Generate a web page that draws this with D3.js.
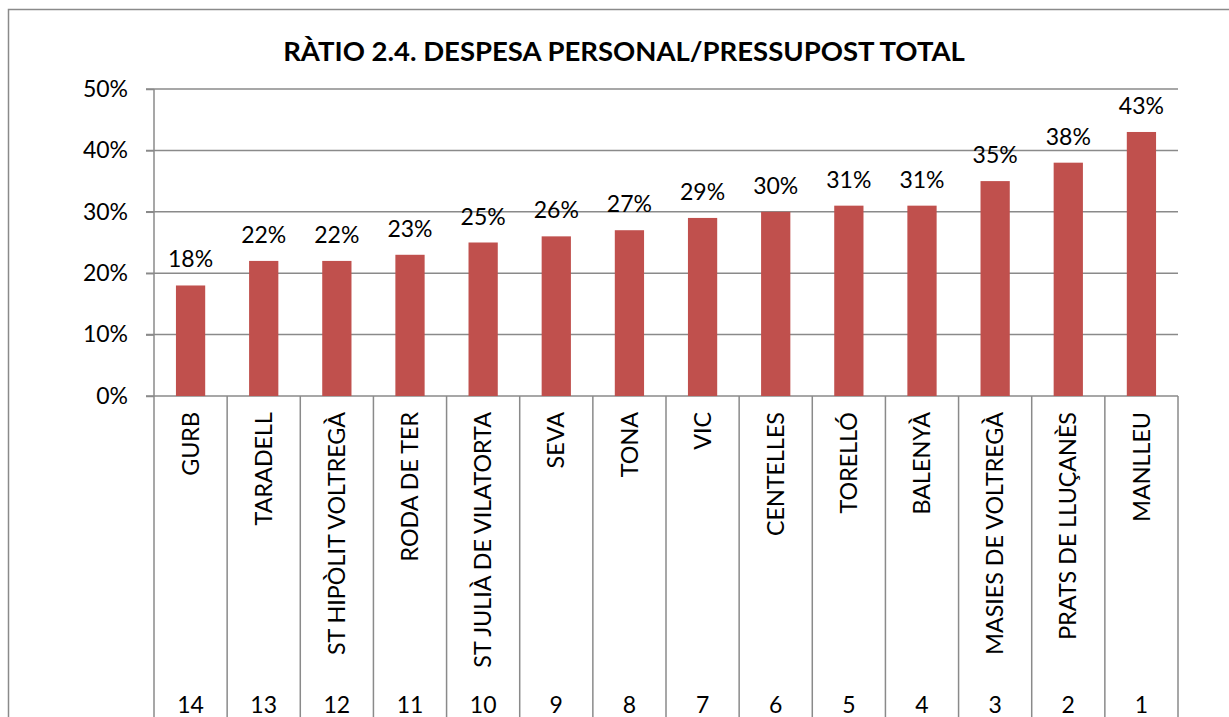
<!DOCTYPE html>
<html>
<head>
<meta charset="utf-8">
<script src="https://cdn.jsdelivr.net/npm/d3@7"></script>
<style>
  body { margin: 0; background: #fff; }
  svg text { font-family: Lato, "Noto Sans", sans-serif; fill: #000; }
</style>
</head>
<body>
<div id="myChart"></div>
<script>
// data
let names = ["GURB", "TARADELL", "ST HIPÒLIT VOLTREGÀ", "RODA DE TER", "ST JULIÀ DE VILATORTA",
             "SEVA", "TONA", "VIC", "CENTELLES", "TORELLÓ", "BALENYÀ", "MASIES DE VOLTREGÀ",
             "PRATS DE LLUÇANÈS", "MANLLEU"];
let ranks = ["14", "13", "12", "11", "10", "9", "8", "7", "6", "5", "4", "3", "2", "1"];
let values = [0.18, 0.22, 0.22, 0.23, 0.25, 0.26, 0.27, 0.29, 0.30, 0.31, 0.31, 0.35, 0.38, 0.43];
let yTicks = [0, 0.1, 0.2, 0.3, 0.4, 0.5];

let W = 1229, H = 717;
let margin = {top: 89, left: 154, right: 51, bottom: 321};
let width = W - margin.left - margin.right,
    height = H - margin.top - margin.bottom;
let gridColor = "#8a8a8a";

let svg = d3.select("#myChart")
  .append("svg")
    .attr("width", W)
    .attr("height", H);

// outer chart border (runs off the right and bottom edges)
svg.append("rect")
  .attr("x", 8.5).attr("y", 9.5)
  .attr("width", W + 20).attr("height", H + 20)
  .attr("fill", "none")
  .attr("stroke", "#8a8a8a")
  .attr("stroke-width", 1.5);

svg.append("text")
  .attr("x", 624).attr("y", 61)
  .attr("text-anchor", "middle")
  .style("font-size", "27.5px")
  .style("font-weight", "bold")
  .text("RÀTIO 2.4. DESPESA PERSONAL/PRESSUPOST TOTAL");

let g = svg.append("g")
  .attr("transform", "translate(" + margin.left + "," + margin.top + ")");

let x = d3.scaleBand()
  .domain(names)
  .range([0, width])
  .paddingInner(0.6)
  .paddingOuter(0.3);

let y = d3.scaleLinear()
  .domain([0, 0.5])
  .range([height, 0]);

// gridlines
g.append("g")
  .selectAll("line")
  .data(yTicks)
  .enter()
  .append("line")
    .attr("x1", -8).attr("x2", width)
    .attr("y1", d => y(d)).attr("y2", d => y(d))
    .attr("stroke", gridColor)
    .attr("stroke-width", 1.5);

// y axis
let yAxis = g.append("g")
  .call(d3.axisLeft(y).tickValues(yTicks).tickFormat(d3.format(".0%")).tickSize(8).tickPadding(18));
yAxis.select(".domain").remove();
yAxis.selectAll("line").attr("stroke", gridColor).attr("stroke-width", 1.5);
yAxis.selectAll("text")
  .style("font-size", "23px")
  .style("font-family", "Lato, sans-serif");

// left axis line runs down to the bottom
g.append("line")
  .attr("x1", 0).attr("x2", 0)
  .attr("y1", 0).attr("y2", H)
  .attr("stroke", gridColor)
  .attr("stroke-width", 1.5);

// category separators
let step = x.step();
g.append("g")
  .selectAll("line")
  .data(names)
  .enter()
  .append("line")
    .attr("x1", d => x(d) - x.paddingOuter() * step + step)
    .attr("x2", d => x(d) - x.paddingOuter() * step + step)
    .attr("y1", height).attr("y2", H)
    .attr("stroke", gridColor)
    .attr("stroke-width", 1.5);

// bars
g.append("g")
  .selectAll("rect")
  .data(values)
  .enter()
  .append("rect")
    .attr("x", (d, i) => x(names[i]))
    .attr("y", d => y(d))
    .attr("width", x.bandwidth())
    .attr("height", d => height - y(d))
    .attr("fill", "#c0504d");

// value labels
g.append("g")
  .selectAll("text")
  .data(values)
  .enter()
  .append("text")
    .attr("x", (d, i) => x(names[i]) + x.bandwidth() / 2)
    .attr("y", d => y(d) - 18)
    .attr("text-anchor", "middle")
    .style("font-size", "23px")
    .text(d => Math.round(d * 100) + "%");

// category names, rotated
g.append("g")
  .selectAll("text")
  .data(names)
  .enter()
  .append("text")
    .attr("transform", d => "translate(" + (x(d) + x.bandwidth() / 2) + "," + (height + 16) + ") rotate(-90)")
    .attr("dy", "0.35em")
    .attr("text-anchor", "end")
    .style("font-size", "23.3px")
    .text(d => d);

// rank labels
g.append("g")
  .selectAll("text")
  .data(ranks)
  .enter()
  .append("text")
    .attr("x", (d, i) => x(names[i]) + x.bandwidth() / 2)
    .attr("y", H - margin.top - 4)
    .attr("text-anchor", "middle")
    .style("font-size", "23px")
    .text(d => d);
</script>
</body>
</html>
